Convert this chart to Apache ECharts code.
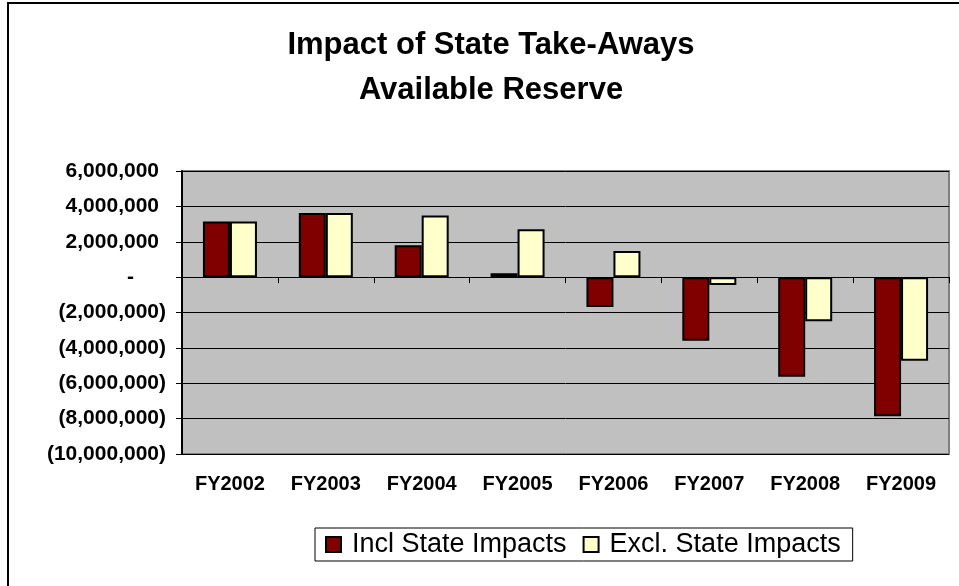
<!DOCTYPE html>
<html>
<head>
<meta charset="utf-8">
<script src="https://cdn.jsdelivr.net/npm/echarts@6/dist/echarts.min.js"></script>
<style>
  html, body { margin: 0; padding: 0; background: #fff; }
  #chart { width: 959px; height: 586px; }
</style>
</head>
<body>
<div id="chart"></div>
<script>
const years = ['FY2002', 'FY2003', 'FY2004', 'FY2005', 'FY2006', 'FY2007', 'FY2008', 'FY2009']
const inclState = [3150000, 3620000, 1800000, 220000, -1690000, -3600000, -5630000, -7870000]
const exclState = [3150000, 3620000, 3490000, 2700000, 1480000, -450000, -2500000, -4730000]
const seriesNames = ['Incl State Impacts', 'Excl. State Impacts']

const font = 'Arial, "Liberation Sans", sans-serif'

// excel accounting style: 1,000 / (1,000) / -
function fmtAccounting(v) {
    if (v === 0) return '{z|-}'
    const s = Math.abs(v).toLocaleString('en-US')
    return v < 0 ? '{n|(' + s + ')}' : '{p|' + s + '}'
}

const myChart = echarts.init(document.getElementById('chart'))
myChart.setOption({
    backgroundColor: '#fff',
    animation: false,
    title: {
        text: 'Impact of State Take-Aways\nAvailable Reserve',
        left: 486,
        top: 18,
        textAlign: 'center',
        textStyle: { fontFamily: font, fontSize: 31, fontWeight: 'bold', color: '#000', lineHeight: 45 }
    },
    graphic: [{
        type: 'rect',
        shape: { x: 8, y: 3, width: 1000, height: 1000 },
        style: { fill: null, stroke: '#000', lineWidth: 2 },
        silent: true
    }],
    legend: {
        left: 315,
        top: 528,
        padding: [3, 12, 3, 10],
        itemGap: 16,
        itemWidth: 15,
        itemHeight: 15,
        icon: 'rect',
        borderColor: '#000',
        borderWidth: 1,
        textStyle: { fontFamily: font, fontSize: 27, color: '#000', padding: [0, 0, 0, 6] },
        data: seriesNames
    },
    grid: {
        left: 182, right: 10, top: 171, bottom: 132,
        show: true,
        backgroundColor: '#c0c0c0',
        borderColor: '#808080',
        borderWidth: 2
    },
    xAxis: [{
        type: 'category',
        data: years,
        position: 'bottom',
        axisLine: { show: false, onZero: false },
        axisTick: { show: false },
        axisLabel: { margin: 20, fontFamily: font, fontSize: 20, fontWeight: 'bold', color: '#000' }
    }, {
        type: 'category',
        data: years,
        position: 'bottom',
        axisLine: { show: true, onZero: true, lineStyle: { color: '#000', width: 1 } },
        axisTick: { show: true, length: 6, lineStyle: { color: '#000' } },
        axisLabel: { show: false }
    }],
    yAxis: {
        type: 'value',
        min: -10000000,
        max: 6000000,
        interval: 2000000,
        axisLine: { show: true, lineStyle: { color: '#000', width: 2 } },
        axisTick: { show: true, length: 6, lineStyle: { color: '#000' } },
        splitLine: { lineStyle: { color: '#000', width: 1 } },
        axisLabel: {
            margin: 16,
            formatter: fmtAccounting,
            rich: {
                p: { fontFamily: font, fontSize: 21, fontWeight: 'bold', color: '#000', padding: [0, 7, 0, 0] },
                n: { fontFamily: font, fontSize: 21, fontWeight: 'bold', color: '#000' },
                z: { fontFamily: font, fontSize: 21, fontWeight: 'bold', color: '#000', padding: [0, 32, 0, 0] }
            }
        }
    },
    series: [{
        name: seriesNames[0],
        type: 'bar',
        xAxisIndex: 0,
        barWidth: 27,
        barGap: '0%',
        itemStyle: { color: '#800000', borderColor: '#000', borderWidth: 2 },
        data: inclState
    }, {
        name: seriesNames[1],
        type: 'bar',
        xAxisIndex: 0,
        barWidth: 27,
        barGap: '0%',
        itemStyle: { color: '#ffffcc', borderColor: '#000', borderWidth: 2 },
        data: exclState
    }]
})
</script>
</body>
</html>
